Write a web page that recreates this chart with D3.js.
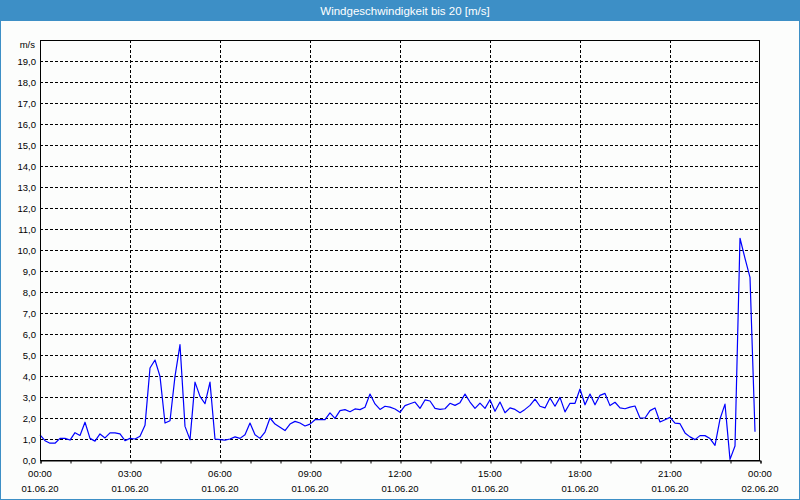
<!DOCTYPE html>
<html>
<head>
<meta charset="utf-8">
<script src="https://cdn.jsdelivr.net/npm/d3@7"></script>
<style>
html,body{margin:0;padding:0;background:#fcfdfc;}
svg{display:block;}
text{font-family:"Liberation Sans",Arial,sans-serif;}
</style>
</head>
<body>
<svg id="chart" width="800" height="500"></svg>
<script>
// ---- data ----
const title = "Windgeschwindigkeit bis 20 [m/s]";
const unitLabel = "m/s";
const startTime = "2020-06-01T00:00:00";
const endTime = "2020-06-02T00:00:00";
const stepMinutes = 10;
const speeds = [
  1.2,0.92,0.8,0.8,1.03,1.03,0.95,1.3,1.17,1.8,
  1.03,0.9,1.24,1.05,1.29,1.29,1.24,0.92,1.03,1.0,
  1.13,1.65,4.38,4.76,3.98,1.76,1.87,3.98,5.49,1.6,
  0.97,3.71,3.03,2.68,3.71,1.0,0.97,0.95,1.0,1.1,
  1.03,1.2,1.76,1.2,1.03,1.33,2.0,1.71,1.56,1.4,
  1.71,1.84,1.76,1.62,1.71,1.92,1.92,1.92,2.24,1.98,
  2.35,2.4,2.3,2.43,2.4,2.51,3.14,2.67,2.41,2.56,
  2.52,2.43,2.27,2.59,2.68,2.76,2.46,2.86,2.81,2.46,
  2.41,2.44,2.7,2.6,2.73,3.14,2.76,2.46,2.71,2.46,
  2.87,2.32,2.76,2.25,2.48,2.41,2.25,2.41,2.6,2.9,
  2.56,2.48,2.95,2.56,2.98,2.29,2.7,2.7,3.38,2.63,
  3.14,2.63,3.08,3.17,2.59,2.75,2.48,2.44,2.52,2.57,
  2.0,2.0,2.35,2.48,1.81,1.92,2.03,1.76,1.73,1.29,
  1.1,0.97,1.16,1.16,1.02,0.7,1.95,2.66,0.03,0.67,
  10.56,9.6,8.7,1.35
];
const timeLabels = ["00:00","03:00","06:00","09:00","12:00","15:00","18:00","21:00","00:00"];
const dateLabels = ["01.06.20","01.06.20","01.06.20","01.06.20","01.06.20","01.06.20","01.06.20","01.06.20","02.06.20"];
const yMax = 20;
const yTickValues = d3.range(0, 20, 1);

// ---- layout ----
const W = 800, H = 500;
const plot = {left: 40, right: 760, top: 40, bottom: 460};
const svg = d3.select("#chart");
const blue = "#3d8fc6";

svg.append("rect").attr("x",0).attr("y",0).attr("width",W).attr("height",H).attr("fill","#fcfdfc");
svg.append("rect").attr("x",0).attr("y",0).attr("width",W).attr("height",21).attr("fill",blue);
svg.append("rect").attr("x",0.5).attr("y",0.5).attr("width",W-1).attr("height",H-1)
  .attr("fill","none").attr("stroke",blue).attr("stroke-width",1);
svg.append("text").attr("x",405).attr("y",14.5).attr("text-anchor","middle")
  .attr("fill","#ffffff").attr("font-size","11.5px").text(title);

const parse = d3.isoParse;
const t0 = parse(startTime), t1 = parse(endTime);
const data = speeds.map((v,i) => ({t: d3.timeMinute.offset(t0, i*stepMinutes), v}));

const x = d3.scaleTime().domain([t0, t1]).range([plot.left, plot.right]);
const y = d3.scaleLinear().domain([0, yMax]).range([plot.bottom, plot.top]);

const majorTicks = d3.timeHour.every(3).range(t0, d3.timeMinute.offset(t1,1));
const minorTicks = d3.timeHour.every(1).range(t0, d3.timeMinute.offset(t1,1));

// grid
const grid = svg.append("g").attr("stroke","#000").attr("stroke-width",1).attr("stroke-dasharray","3,2");
grid.selectAll("line.h").data(yTickValues.filter(d=>d>0)).enter().append("line")
  .attr("x1",plot.left).attr("x2",plot.right)
  .attr("y1",d=>Math.round(y(d))+0.5).attr("y2",d=>Math.round(y(d))+0.5);
grid.selectAll("line.v").data(majorTicks.slice(1,-1)).enter().append("line")
  .attr("y1",plot.top).attr("y2",plot.bottom)
  .attr("x1",d=>Math.round(x(d))+0.5).attr("x2",d=>Math.round(x(d))+0.5);

// line
const line = d3.line().x(d=>x(d.t)).y(d=>y(d.v));
svg.append("path").datum(data).attr("d",line).attr("fill","none")
  .attr("stroke","#0000ff").attr("stroke-width",1.2).attr("stroke-linejoin","round");

// frame
svg.append("rect").attr("x",plot.left+0.5).attr("y",plot.top+0.5)
  .attr("width",plot.right-plot.left-1).attr("height",plot.bottom-plot.top)
  .attr("fill","none").attr("stroke","#000").attr("stroke-width",1);

// x axis minor ticks
const xAxis = d3.axisBottom(x).tickValues(minorTicks).tickSize(3).tickFormat("");
const gx = svg.append("g").attr("transform",`translate(0.5,${plot.bottom+0.5})`).call(xAxis);
gx.select(".domain").attr("stroke","#000");
gx.selectAll(".tick line").attr("stroke","#000");

// x labels
const xl = svg.append("g").attr("font-size","9.5px").attr("fill","#000").attr("text-anchor","middle");
xl.selectAll("text.t").data(majorTicks).enter().append("text")
  .attr("x",d=>x(d)).attr("y",477).text((d,i)=>timeLabels[i]);
xl.selectAll("text.d").data(majorTicks).enter().append("text")
  .attr("x",d=>x(d)).attr("y",492).text((d,i)=>dateLabels[i]);

// y axis labels
const fmt = d => d3.format(".1f")(d).replace(".", ",");
const yAxis = d3.axisLeft(y).tickValues(yTickValues).tickSize(0).tickPadding(4).tickFormat(fmt);
const gy = svg.append("g").attr("transform",`translate(${plot.left},0)`).call(yAxis);
gy.select(".domain").remove();
gy.selectAll("text").attr("font-family","Liberation Sans, Arial, sans-serif")
  .attr("font-size","9.5px").attr("fill","#000");

svg.append("text").attr("x",35).attr("y",48).attr("text-anchor","end")
  .attr("font-size","9.5px").attr("fill","#000").text(unitLabel);
</script>
</body>
</html>
